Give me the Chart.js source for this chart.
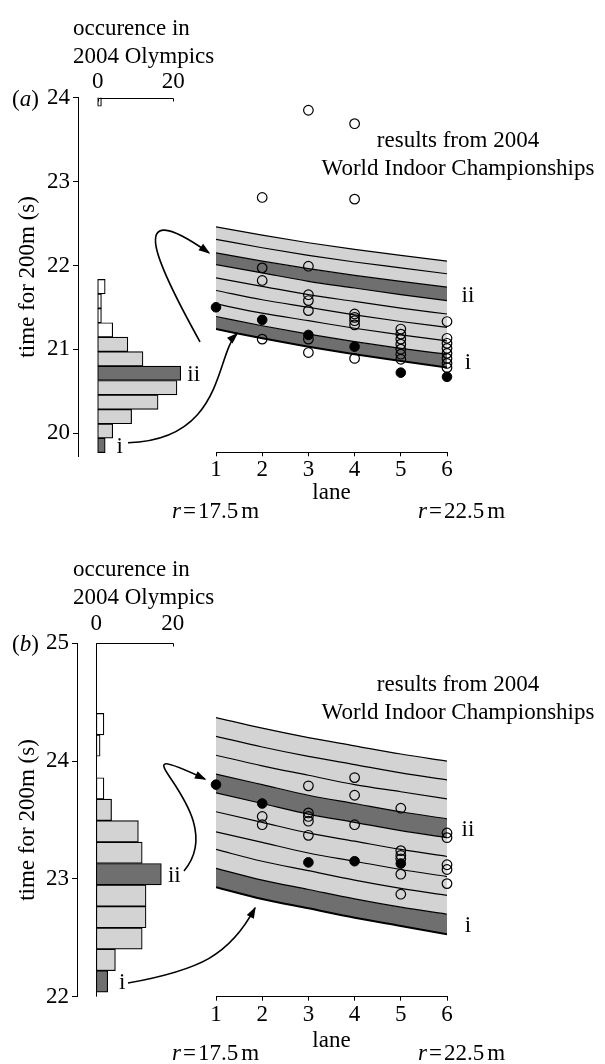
<!DOCTYPE html>
<html><head><meta charset="utf-8">
<script src="https://cdn.jsdelivr.net/npm/chart.js@4.4.1/dist/chart.umd.min.js"></script>
<style>
html,body{margin:0;padding:0;background:#fff;}
body{width:605px;height:1064px;position:relative;overflow:hidden;}
.panel{position:absolute;left:0;width:605px;}
.panel canvas{position:absolute;left:0;top:0;}
</style></head><body>
<div class="panel" style="top:0;height:530px">
 <canvas id="ha" width="605" height="530"></canvas>
 <canvas id="sa" width="605" height="530"></canvas>
</div>
<div class="panel" style="top:530px;height:534px">
 <canvas id="hb" width="605" height="534"></canvas>
 <canvas id="sb" width="605" height="534"></canvas>
</div>
<script>
// ---------------- data ----------------
const lanes = [1, 2, 3, 4, 5, 6];
const laneTicks = [1, 2, 3, 4, 5, 6];
const occurrenceTicks = [0, 20];

// panel (a)
const aTimeTicks = [20, 21, 22, 23, 24];
const aHistTimes = [19.856, 20.028, 20.2, 20.372, 20.544, 20.716, 20.888, 21.06, 21.232, 21.404, 21.576, 21.748, 23.984];
const aHistCounts = [2, 4, 9, 16, 21, 22, 12, 8, 4, 1, 1, 2, 1];
const aHistGroup = ['i', 'band', 'band', 'band', 'band', 'ii', 'band', 'band', 'slow', 'slow', 'slow', 'slow', 'slow'];
const aBandLines = [
  [22.46, 22.36, 22.27, 22.19, 22.12, 22.05],
  [22.31, 22.21, 22.12, 22.04, 21.97, 21.90],
  [22.15, 22.05, 21.96, 21.88, 21.81, 21.74],
  [22.01, 21.91, 21.81, 21.73, 21.65, 21.58],
  [21.85, 21.75, 21.65, 21.57, 21.49, 21.42],
  [21.70, 21.59, 21.50, 21.41, 21.33, 21.26],
  [21.54, 21.43, 21.34, 21.25, 21.17, 21.10],
  [21.39, 21.28, 21.18, 21.09, 21.01, 20.94],
  [21.24, 21.13, 21.03, 20.94, 20.86, 20.78]
];
const aBandNames = ['', '', 'ii', '', '', '', '', 'i'];
const aOpenLane = [2, 2, 2, 2,
  3, 3, 3, 3, 3, 3, 3,
  4, 4, 4, 4, 4, 4, 4,
  5, 5, 5, 5, 5, 5, 5,
  6, 6, 6, 6, 6, 6, 6, 6];
const aOpenTime = [22.81, 21.97, 21.82, 21.12,
  23.85, 21.99, 21.65, 21.58, 21.46, 21.12, 20.96,
  23.69, 22.79, 21.42, 21.38, 21.34, 21.29, 20.89,
  21.24, 21.18, 21.12, 21.06, 21.00, 20.94, 20.88,
  21.33, 21.13, 21.07, 21.01, 20.95, 20.89, 20.83, 20.78];
const aFilledLane = [1, 2, 3, 4, 5, 6];
const aFilledTime = [21.50, 21.35, 21.17, 21.03, 20.72, 20.67];

// panel (b)
const bTimeTicks = [22, 23, 24, 25];
const bHistTimes = [22.13, 22.312, 22.494, 22.676, 22.858, 23.04, 23.222, 23.404, 23.586, 23.768, 24.132, 24.314];
const bHistCounts = [3, 5, 12, 13, 13, 17, 12, 11, 4, 2, 1, 2];
const bHistGroup = ['i', 'band', 'band', 'band', 'band', 'ii', 'band', 'band', 'band', 'slow', 'slow', 'slow'];
const bBandLines = [
  [24.37, 24.28, 24.20, 24.13, 24.06, 24.00],
  [24.21, 24.12, 24.04, 23.97, 23.90, 23.84],
  [24.05, 23.96, 23.88, 23.80, 23.74, 23.68],
  [23.89, 23.80, 23.71, 23.64, 23.57, 23.51],
  [23.73, 23.64, 23.55, 23.48, 23.41, 23.35],
  [23.57, 23.48, 23.39, 23.32, 23.25, 23.19],
  [23.40, 23.31, 23.22, 23.15, 23.08, 23.02],
  [23.25, 23.15, 23.07, 22.99, 22.92, 22.86],
  [23.09, 22.99, 22.91, 22.83, 22.76, 22.70],
  [22.93, 22.83, 22.75, 22.67, 22.60, 22.53]
];
const bBandNames = ['', '', '', 'ii', '', '', '', '', 'i'];
const bOpenLane = [2, 2, 3, 3, 3, 3, 3, 4, 4, 4, 5, 5, 5, 5, 5, 5, 6, 6, 6, 6, 6];
const bOpenTime = [23.53, 23.46, 23.79, 23.56, 23.53, 23.49, 23.37, 23.86, 23.71, 23.46,
  23.60, 23.24, 23.20, 23.17, 23.04, 22.87, 23.39, 23.35, 23.12, 23.08, 22.96];
const bFilledLane = [1, 2, 3, 4, 5];
const bFilledTime = [23.80, 23.64, 23.14, 23.15, 23.13];

// ---------------- style ----------------
const FONT = "'Liberation Serif','Times New Roman',serif";
const FS = 23;
const LIGHT = '#d3d3d3', DARK = '#6f6f6f';
Chart.defaults.font.family = FONT;
Chart.defaults.font.size = FS;
Chart.defaults.color = '#000';
Chart.defaults.animation = false;
Chart.defaults.plugins.legend.display = false;
Chart.defaults.plugins.tooltip.enabled = false;

function histColor(g) { return g === 'slow' ? '#ffffff' : (g === 'band' ? LIGHT : DARK); }

const histDecor = {
  id: 'histDecor',
  afterDraw(chart, args, o) {
    const ctx = chart.ctx, xs = chart.scales.x, ys = chart.scales.y, ca = chart.chartArea;
    ctx.save();
    ctx.strokeStyle = '#000'; ctx.fillStyle = '#000'; ctx.lineWidth = 1;
    const x0 = Math.round(xs.getPixelForValue(occurrenceTicks[0])) + 0.5;
    const x1 = Math.round(xs.getPixelForValue(occurrenceTicks[1])) + 0.5;
    const yt = Math.round(ca.top) + 0.5;
    ctx.beginPath();
    ctx.moveTo(x0, yt + 3); ctx.lineTo(x0, yt); ctx.lineTo(x1, yt); ctx.lineTo(x1, yt + 3);
    ctx.stroke();
    if (o.baseline) {
      ctx.beginPath(); ctx.moveTo(x0, ca.top); ctx.lineTo(x0, ca.bottom); ctx.stroke();
    }
    ctx.textBaseline = 'alphabetic';
    ctx.textAlign = 'left';
    ctx.font = FS + 'px ' + FONT;
    ctx.fillText('occurence in', o.titleX, o.titleY[0]);
    ctx.fillText('2004 Olympics', o.titleX, o.titleY[1]);
    // panel tag "(a)" / "(b)"
    const ty = ys.getPixelForValue(ys.max) + 8;
    let x = o.tagX;
    ctx.fillText('(', x, ty); x += ctx.measureText('(').width;
    ctx.font = 'italic ' + FS + 'px ' + FONT;
    ctx.fillText(o.tag, x, ty); x += ctx.measureText(o.tag).width;
    ctx.font = FS + 'px ' + FONT;
    ctx.fillText(')', x, ty);
    // labels i / ii next to highlighted bars
    const meta = chart.getDatasetMeta(0);
    ctx.textAlign = 'center';
    o.groups.forEach((g, i) => {
      if (g === 'i' || g === 'ii') {
        const el = meta.data[i];
        ctx.fillText(g, el.x + (g === 'ii' ? 13 : 14.5), el.y + 8);
      }
    });
    ctx.restore();
  }
};

function drawArrow(ctx, p) {
  ctx.beginPath();
  ctx.moveTo(p[0][0], p[0][1]);
  ctx.bezierCurveTo(p[1][0], p[1][1], p[2][0], p[2][1], p[3][0], p[3][1]);
  ctx.stroke();
  const ang = Math.atan2(p[3][1] - p[2][1], p[3][0] - p[2][0]);
  const L = 10, W = 4;
  const c = Math.cos(ang), s = Math.sin(ang);
  ctx.beginPath();
  ctx.moveTo(p[3][0] + 1.5 * c, p[3][1] + 1.5 * s);
  ctx.lineTo(p[3][0] - L * c + W * s, p[3][1] - L * s - W * c);
  ctx.lineTo(p[3][0] - L * c - W * s, p[3][1] - L * s + W * c);
  ctx.closePath();
  ctx.fill();
}

function drawR(ctx, num, x, y) {
  ctx.textAlign = 'left';
  ctx.font = 'italic ' + FS + 'px ' + FONT;
  ctx.fillText('r', x, y);
  x += ctx.measureText('r').width + 2;
  ctx.font = FS + 'px ' + FONT;
  ctx.fillText('=', x, y);
  x += ctx.measureText('=').width + 2;
  ctx.fillText(num, x, y);
  x += ctx.measureText(num).width + 3;
  ctx.fillText('m', x, y);
}

const scatterDecor = {
  id: 'scatterDecor',
  afterDraw(chart, args, o) {
    const ctx = chart.ctx, xs = chart.scales.x, ys = chart.scales.y;
    ctx.save();
    ctx.fillStyle = '#000'; ctx.strokeStyle = '#000';
    ctx.font = FS + 'px ' + FONT;
    ctx.textBaseline = 'alphabetic';
    ctx.textAlign = 'center';
    ctx.fillText('results from 2004', o.noteX, o.noteY[0]);
    ctx.fillText('World Indoor Championships', o.noteX, o.noteY[1]);
    const last = lanes.length - 1;
    const xEnd = xs.getPixelForValue(lanes[last]);
    o.bandNames.forEach((n, k) => {
      if (!n) return;
      const yMid = (ys.getPixelForValue(o.bandLines[k][last]) + ys.getPixelForValue(o.bandLines[k + 1][last])) / 2;
      ctx.fillText(n, xEnd + 21, yMid + 8);
    });
    drawR(ctx, '17.5', xs.getPixelForValue(lanes[0]) - 44, o.rY);
    drawR(ctx, '22.5', xEnd - 29, o.rY);
    ctx.lineWidth = 1.6;
    o.arrows.forEach(a => {
      const p = a.lane.map((l, i) => [xs.getPixelForValue(l), ys.getPixelForValue(a.time[i])]);
      drawArrow(ctx, p);
    });
    ctx.restore();
  }
};

function makeHist(id, c) {
  return new Chart(document.getElementById(id), {
    type: 'bar',
    data: {
      datasets: [{
        data: c.times.map((t, i) => ({ x: c.counts[i], y: t })),
        backgroundColor: c.groups.map(histColor),
        borderColor: '#000', borderWidth: 1.2, borderSkipped: false,
        barPercentage: 1, categoryPercentage: 1
      }]
    },
    options: {
      indexAxis: 'y', responsive: false, animation: false,
      layout: { padding: { left: 0, right: 605 - 200, top: 0, bottom: c.bottomPad } },
      scales: {
        y: {
          type: 'linear', position: 'left', min: c.yMin, max: c.yMax, offset: false,
          afterFit: s => { s.width = c.axisX; },
          afterBuildTicks: s => { s.ticks = c.timeTicks.map(v => ({ value: v })); },
          ticks: { padding: 3, callback: v => String(v), autoSkip: false },
          grid: { display: true, offset: false, drawOnChartArea: false, drawTicks: true, tickLength: 5, color: '#000', lineWidth: 1 },
          border: { display: true, color: '#000', width: 1 },
          title: { display: true, text: 'time for 200m (s)', padding: { top: 14, bottom: 0 } }
        },
        x: {
          type: 'linear', position: 'top', min: c.xMin, max: c.xMax, offset: false,
          afterFit: s => { s.height = c.top; },
          afterBuildTicks: s => { s.ticks = occurrenceTicks.map(v => ({ value: v })); },
          ticks: { padding: c.xTickPad, maxRotation: 0, autoSkip: false, callback: v => String(v) },
          grid: { display: false, drawTicks: false },
          border: { display: false }
        }
      },
      plugins: {
        histDecor: { tag: c.tag, tagX: 12, titleX: 73, titleY: c.titleY, groups: c.groups, baseline: c.baseline }
      }
    },
    plugins: [histDecor]
  });
}

function makeScatter(id, c) {
  const datasets = [];
  datasets.push({
    label: 'filled', data: c.filledLane.map((l, i) => ({ x: l, y: c.filledTime[i] })),
    showLine: false, pointRadius: 4.8, pointBackgroundColor: '#000', pointBorderColor: '#000',
    pointBorderWidth: 1, clip: false, order: 0
  });
  datasets.push({
    label: 'open', data: c.openLane.map((l, i) => ({ x: l, y: c.openTime[i] })),
    showLine: false, pointRadius: 4.8, pointBackgroundColor: 'rgba(0,0,0,0)', pointBorderColor: '#000',
    pointBorderWidth: 1.2, clip: false, order: 1
  });
  c.bandLines.forEach((vals, k) => {
    datasets.push({
      label: 'line' + k,
      data: lanes.map((l, i) => ({ x: l, y: vals[i] })),
      borderColor: '#000',
      borderWidth: k === c.bandLines.length - 1 ? 2 : 1.2,
      pointRadius: 0,
      cubicInterpolationMode: 'monotone',
      fill: k === 0 ? false : '-1',
      backgroundColor: k === 0 ? 'rgba(0,0,0,0)' : (c.bandNames[k - 1] ? DARK : LIGHT),
      order: 2 + k
    });
  });
  return new Chart(document.getElementById(id), {
    type: 'line',
    data: { datasets },
    options: {
      responsive: false, animation: false,
      layout: { padding: { left: 216, right: 605 - 447, top: c.top, bottom: 0 } },
      scales: {
        x: {
          type: 'linear', position: 'bottom', min: lanes[0], max: lanes[lanes.length - 1],
          afterFit: s => { s.height = c.xAxisH; },
          afterBuildTicks: s => { s.ticks = laneTicks.map(v => ({ value: v })); },
          ticks: { padding: 0, maxRotation: 0, autoSkip: false, callback: v => String(v) },
          grid: { display: true, drawOnChartArea: false, drawTicks: true, tickLength: 4, color: '#000' },
          border: { display: true, color: '#000', width: 1 },
          title: { display: true, text: 'lane', padding: { top: 0, bottom: c.lanePad } }
        },
        y: { type: 'linear', display: false, min: c.yMin, max: c.yMax }
      },
      plugins: {
        filler: { drawTime: 'beforeDatasetsDraw' },
        scatterDecor: {
          noteX: 458, noteY: c.noteY, rY: c.rY,
          bandLines: c.bandLines, bandNames: c.bandNames, arrows: c.arrows
        }
      }
    },
    plugins: [scatterDecor]
  });
}

// ---------------- panel (a) ----------------
makeHist('ha', {
  times: aHistTimes, counts: aHistCounts, groups: aHistGroup, timeTicks: aTimeTicks,
  yMin: 19.73, yMax: 24, xMin: -5.2, xMax: 27.1, axisX: 78, top: 97.7, bottomPad: 74,
  xTickPad: 2, tag: 'a', titleY: [35, 63], baseline: false
});
makeScatter('sa', {
  bandLines: aBandLines, bandNames: aBandNames,
  openLane: aOpenLane, openTime: aOpenTime, filledLane: aFilledLane, filledTime: aFilledTime,
  yMin: 19.77, yMax: 24, top: 97.7, xAxisH: 530 - 452.3, lanePad: 23,
  noteY: [147, 175], rY: 518,
  arrows: [
    { lane: [0.654, -0.212, -1.078, 0.848], time: [21.088, 21.946, 22.900, 22.149] },
    { lane: [-0.905, 1.195, 0.978, 1.455], time: [19.884, 19.920, 20.933, 21.184] }
  ]
});

// ---------------- panel (b) ----------------
makeHist('hb', {
  times: bHistTimes, counts: bHistCounts, groups: bHistGroup, timeTicks: bTimeTicks,
  yMin: 22, yMax: 25, xMin: -5.03, xMax: 27.1, axisX: 77, top: 113.3, bottomPad: 534 - 466.7,
  xTickPad: 5.5, tag: 'b', titleY: [46, 74], baseline: true
});
makeScatter('sb', {
  bandLines: bBandLines, bandNames: bBandNames,
  openLane: bOpenLane, openTime: bOpenTime, filledLane: bFilledLane, filledTime: bFilledTime,
  yMin: 22, yMax: 25, top: 113.3, xAxisH: 534 - 466.7, lanePad: 9,
  noteY: [161, 189], rY: 530,
  arrows: [
    { lane: [0.307, 1.411, -1.511, 0.762], time: [23.067, 23.585, 24.264, 23.848] },
    { lane: [-0.905, 0.654, 1.303, 1.844], time: [22.116, 22.226, 22.353, 22.753] }
  ]
});
</script>
</body></html>
